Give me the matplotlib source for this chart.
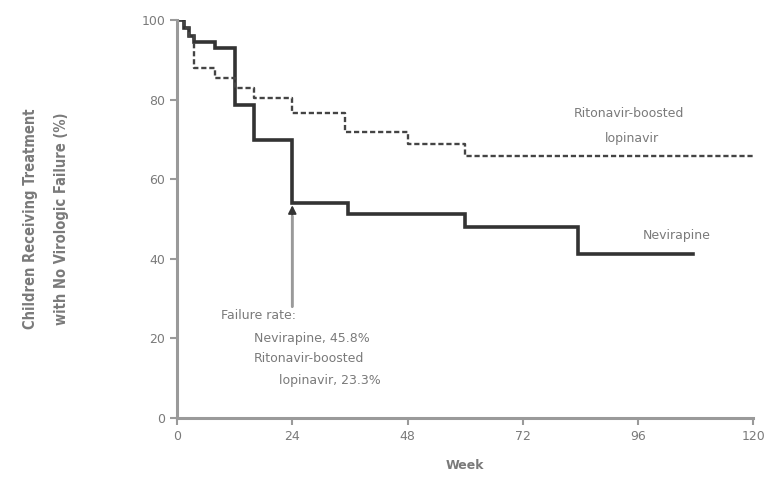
import matplotlib.pyplot as plt

# Kaplan-Meier style step data (week, % without failure)
nevirapine_weeks = [0, 1.5, 2.5, 3.5, 8, 12, 16, 24, 35.5, 60, 83.5, 107.5]
nevirapine_pct = [100, 98, 96, 94.5, 93, 78.6, 70, 54, 51.4, 48.1, 41.2, 41.2]

lopinavir_weeks = [0, 1.5, 2.5, 3.5, 8, 12, 16, 24, 35, 48, 60, 120]
lopinavir_pct = [100, 98, 96, 88, 85.4, 83, 80.6, 76.8, 72, 69, 65.8, 65.8]

x_ticks = [0, 24, 48, 72, 96, 120]
y_ticks = [0, 20, 40, 60, 80, 100]

line_color = "#333333"
text_color = "#7a7a7a"
axis_color = "#9a9a9a"

plt.rcParams["font.family"] = ["DejaVu Sans"]

fig = plt.figure(figsize=(7.78, 4.86), dpi=100)
ax = fig.add_axes([0.2275, 0.14, 0.741, 0.818])

ax.step(nevirapine_weeks, nevirapine_pct, where="post",
        color=line_color, linewidth=2.6, solid_joinstyle="miter")
ax.step(lopinavir_weeks, lopinavir_pct, where="post",
        color="#444444", linewidth=1.7, linestyle=(0, (2.2, 1.2)))

ax.set_xlim(0, 120)
ax.set_ylim(0, 100)
ax.set_xticks(x_ticks)
ax.set_yticks(y_ticks)

for side in ("top", "right"):
    ax.spines[side].set_visible(False)
for side in ("left", "bottom"):
    ax.spines[side].set_color(axis_color)
    ax.spines[side].set_linewidth(2.2)

ax.tick_params(direction="out", length=5, width=1.5, color=axis_color,
               labelcolor=text_color, labelsize=9)

ax.set_xlabel("Week", color=text_color, fontsize=9, fontweight="bold",
              labelpad=12)
ax.set_ylabel("Children Receiving Treatment\nwith No Virologic Failure (%)",
              color=text_color, fontsize=10.5, fontweight="bold",
              fontstretch="condensed", labelpad=52, linespacing=2.3)

ax.text(94, 76.6, "Ritonavir-boosted", ha="center", va="center",
        color=text_color, fontsize=9)
ax.text(94.8, 70.3, "lopinavir", ha="center", va="center",
        color=text_color, fontsize=9)
ax.text(104, 45.8, "Nevirapine", ha="center", va="center",
        color=text_color, fontsize=9)

ax.annotate("", xy=(24, 53.5), xytext=(24, 28),
            arrowprops=dict(arrowstyle="-|>", color=line_color, lw=1.3,
                            mutation_scale=12, shrinkA=0, shrinkB=0))
ax.annotate("", xy=(24, 53.5), xytext=(24, 28),
            arrowprops=dict(arrowstyle="-", color=axis_color, lw=2,
                            shrinkA=0, shrinkB=8))

ax.text(9.2, 25.7, "Failure rate:", ha="left", va="center",
        color=text_color, fontsize=9)
ax.text(16, 20, "Nevirapine, 45.8%", ha="left", va="center",
        color=text_color, fontsize=9)
ax.text(16, 14.9, "Ritonavir-boosted", ha="left", va="center",
        color=text_color, fontsize=9)
ax.text(21.2, 9.3, "lopinavir, 23.3%", ha="left", va="center",
        color=text_color, fontsize=9)

fig.savefig("out.png", dpi=100)
